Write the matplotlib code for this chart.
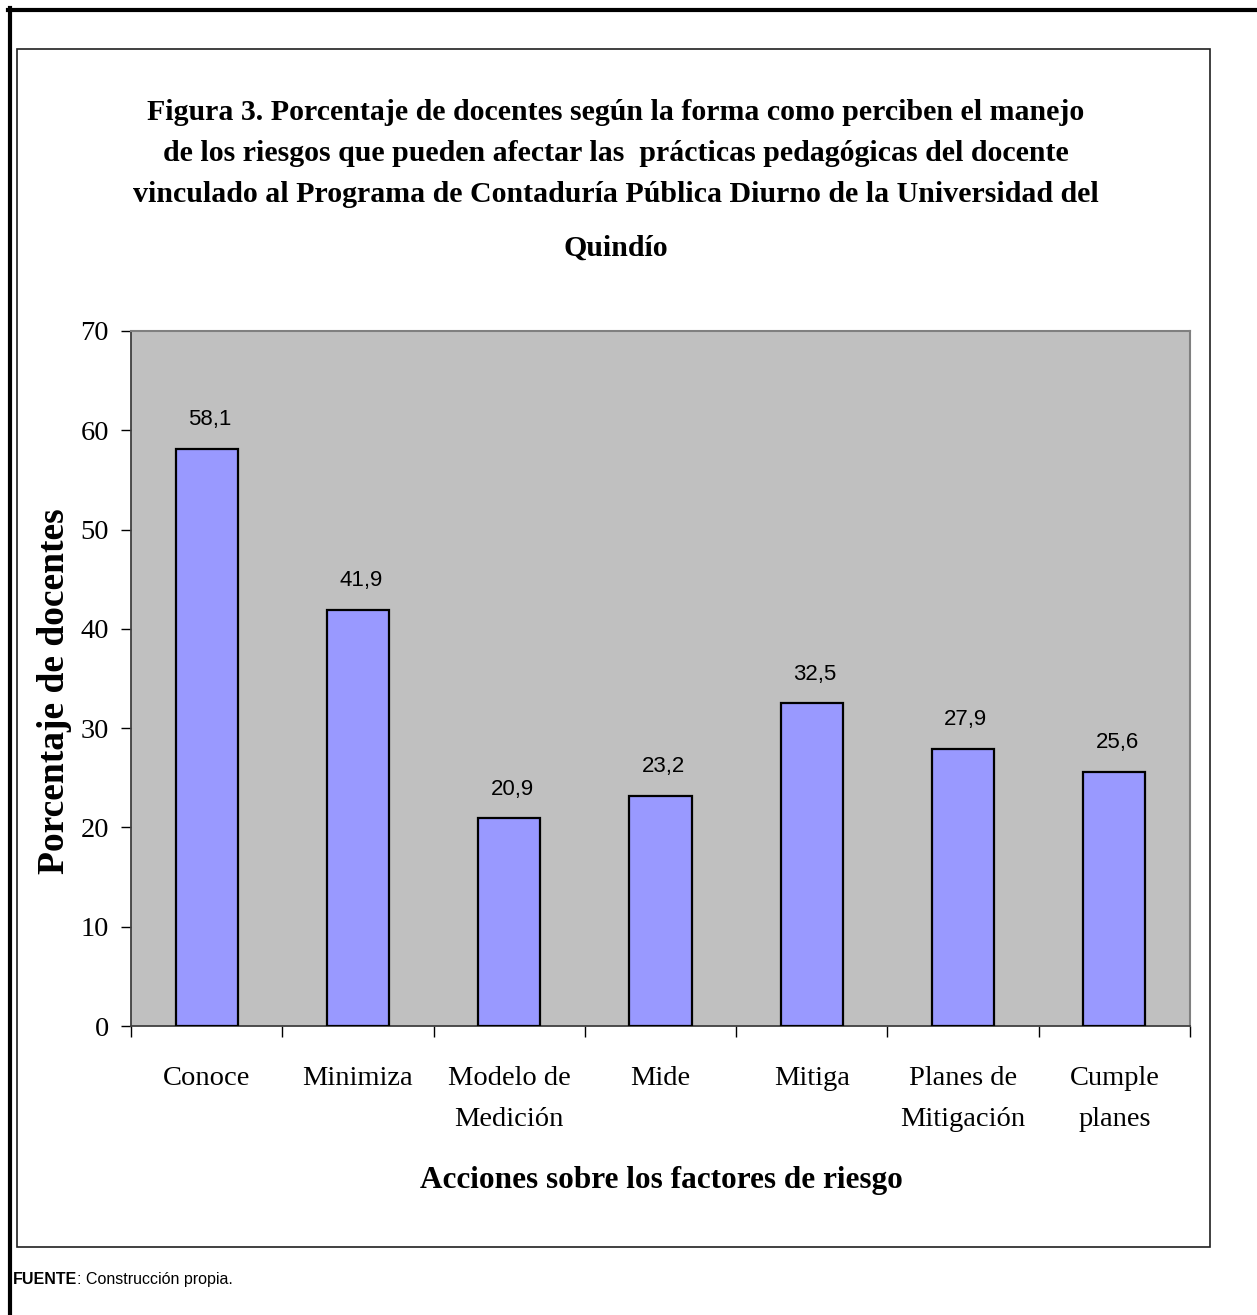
import numpy as np
import matplotlib.pyplot as plt
from matplotlib.patches import Rectangle
from matplotlib.lines import Line2D

plt.rcParams['font.family'] = ['Liberation Serif', 'DejaVu Serif']

# datos de la figura
categorias = ['Conoce', 'Minimiza', 'Modelo de\nMedición', 'Mide', 'Mitiga',
              'Planes de\nMitigación', 'Cumple\nplanes']
porcentajes = [58.1, 41.9, 20.9, 23.2, 32.5, 27.9, 25.6]
etiquetas = ['58,1', '41,9', '20,9', '23,2', '32,5', '27,9', '25,6']
marcas_y = [0, 10, 20, 30, 40, 50, 60, 70]

titulo = [
    'Figura 3. Porcentaje de docentes según la forma como perciben el manejo',
    'de los riesgos que pueden afectar las  prácticas pedagógicas del docente',
    'vinculado al Programa de Contaduría Pública Diurno de la Universidad del',
    'Quindío',
]
lineas_base = [120, 161, 202, 256]

W, H = 1257, 1315
fig = plt.figure(figsize=(W / 100, H / 100), dpi=100)


def fx(px):
    return px / W


def fy(py):
    return 1 - py / H


# marco de la pagina y recuadro del grafico
fig.add_artist(Line2D([fx(8), 1], [fy(9.5), fy(9.5)], color='black', lw=3))
fig.add_artist(Line2D([fx(10), fx(10)], [fy(8), 0], color='black', lw=3))
fig.add_artist(Rectangle((fx(16.5), fy(1247)), fx(1210) - fx(16.5), fy(49) - fy(1247),
                         fill=False, edgecolor='#202020', lw=1.2))

ax = fig.add_axes([fx(131), fy(1026), fx(1190) - fx(131), fy(331) - fy(1026)])
ax.set_facecolor('#C0C0C0')

x = np.arange(len(categorias))
ax.bar(x, porcentajes, width=0.41, color='#9999FF', edgecolor='black', linewidth=1.6, zorder=3)
for xi, v, lab in zip(x, porcentajes, etiquetas):
    ax.annotate(lab, (xi, v), xytext=(2, 21), textcoords='offset points',
                ha='center', va='center', fontsize=16, family='Liberation Sans')

ax.set_xlim(-0.5, len(categorias) - 0.5)
ax.set_ylim(0, 70)
ax.set_yticks(marcas_y)
ax.tick_params(axis='y', labelsize=20.5, length=7, width=1, pad=9)

# marcas en los limites de cada categoria, nombres centrados en las barras
ax.set_xticks(np.arange(-0.5, len(categorias), 1))
ax.set_xticklabels([])
ax.set_xticks(x, minor=True)
ax.set_xticklabels(categorias, minor=True, fontsize=20.5, linespacing=1.85)
ax.tick_params(axis='x', which='major', length=8, width=1)
ax.tick_params(axis='x', which='minor', length=0, pad=29)

for lado in ['top', 'right']:
    ax.spines[lado].set_color('#808080')
    ax.spines[lado].set_linewidth(1.5)
for lado in ['left', 'bottom']:
    ax.spines[lado].set_color('#404040')
    ax.spines[lado].set_linewidth(1.3)

ax.set_ylabel('Porcentaje de docentes', fontsize=27, fontweight='bold', va='center')
ax.yaxis.set_label_coords(-0.0718, 0.482)
ax.set_xlabel('Acciones sobre los factores de riesgo', fontsize=22.5, fontweight='bold', va='center')
ax.xaxis.set_label_coords(0.501, -0.2216)

for linea, yb in zip(titulo, lineas_base):
    fig.text(fx(616), fy(yb), linea, ha='center', va='baseline',
             fontsize=21.5, fontweight='bold')

# fuente al pie
fuente = fig.text(fx(13), fy(1284), 'FUENTE', ha='left', va='baseline',
                  fontsize=11.5, fontweight='bold', family='Liberation Sans')
fig.canvas.draw()
bb = fuente.get_window_extent()
fig.text(bb.x1 / W, fy(1284), ': Construcción propia.', ha='left', va='baseline',
         fontsize=11.5, family='Liberation Sans')

fig.savefig('out.png', dpi=100)
